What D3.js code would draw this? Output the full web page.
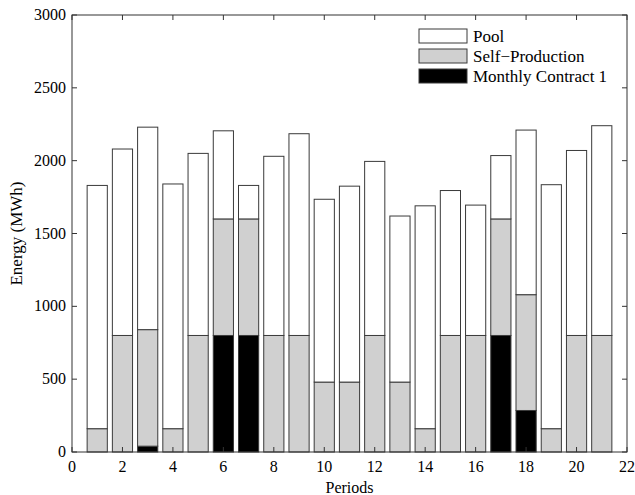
<!DOCTYPE html>
<html>
<head>
<meta charset="utf-8">
<script src="https://cdn.jsdelivr.net/npm/d3@7"></script>
<style>
  body { margin: 0; background: #fff; }
  svg text { font-family: "Liberation Serif", "DejaVu Serif", serif; fill: #000; }
</style>
</head>
<body>
<div id="main"></div>
<script>
// data
var periods = [1, 2, 3, 4, 5, 6, 7, 8, 9, 10, 11, 12, 13, 14, 15, 16, 17, 18, 19, 20, 21];
var monthlyContract = [0, 0, 40, 0, 0, 800, 800, 0, 0, 0, 0, 0, 0, 0, 0, 0, 800, 285, 0, 0, 0];
var selfProduction = [160, 800, 800, 160, 800, 800, 800, 800, 800, 480, 480, 800, 480, 160, 800, 800, 800, 795, 160, 800, 800];
var pool = [1670, 1280, 1390, 1680, 1250, 605, 230, 1230, 1385, 1255, 1345, 1195, 1140, 1530, 995, 895, 435, 1130, 1675, 1270, 1440];
var seriesNames = ["Monthly Contract 1", "Self\u2212Production", "Pool"];
var seriesColors = ["#000000", "#d0d0d0", "#ffffff"];
var xTicks = [0, 2, 4, 6, 8, 10, 12, 14, 16, 18, 20, 22];
var yTicks = [0, 500, 1000, 1500, 2000, 2500, 3000];

var width = 635, height = 495;
var margin = {top: 15, right: 8, bottom: 43, left: 72};
var w = width - margin.left - margin.right;
var h = height - margin.top - margin.bottom;

var svg = d3.select("#main").append("svg")
  .attr("width", width)
  .attr("height", height);

var g = svg.append("g")
  .attr("transform", "translate(" + margin.left + "," + margin.top + ")");

var x = d3.scaleLinear().domain([0, 22]).range([0, w]);
var y = d3.scaleLinear().domain([0, 3000]).range([h, 0]);

var rows = periods.map(function(p, i) {
  return {period: p, m: monthlyContract[i], s: selfProduction[i], p: pool[i]};
});
var stack = d3.stack().keys(["m", "s", "p"]);
var layers = stack(rows);

var barW = x(0.8) - x(0);

layers.forEach(function(layer, li) {
  g.selectAll(".bar" + li)
    .data(layer.filter(function(d) { return d[1] - d[0] > 0; }))
    .enter().append("rect")
    .attr("x", function(d) { return x(d.data.period) - barW / 2; })
    .attr("y", function(d) { return y(d[1]); })
    .attr("width", barW)
    .attr("height", function(d) { return y(d[0]) - y(d[1]); })
    .attr("fill", seriesColors[li])
    .attr("stroke", "#3a3a3a")
    .attr("stroke-width", 1);
});

// frame and ticks (matlab style, ticks inside on all sides)
g.append("rect")
  .attr("x", 0).attr("y", 0)
  .attr("width", w).attr("height", h)
  .attr("fill", "none")
  .attr("stroke", "#333")
  .attr("stroke-width", 1);

var tl = 5;
xTicks.forEach(function(t) {
  g.append("line").attr("x1", x(t)).attr("x2", x(t)).attr("y1", h).attr("y2", h - tl).attr("stroke", "#333");
  g.append("line").attr("x1", x(t)).attr("x2", x(t)).attr("y1", 0).attr("y2", tl).attr("stroke", "#333");
  g.append("text")
    .attr("x", x(t)).attr("y", h + 20)
    .attr("text-anchor", "middle")
    .style("font-size", "16px")
    .text(t);
});
yTicks.forEach(function(t) {
  g.append("line").attr("x1", 0).attr("x2", tl).attr("y1", y(t)).attr("y2", y(t)).attr("stroke", "#333");
  g.append("line").attr("x1", w).attr("x2", w - tl).attr("y1", y(t)).attr("y2", y(t)).attr("stroke", "#333");
  g.append("text")
    .attr("x", -6).attr("y", y(t) + 5)
    .attr("text-anchor", "end")
    .style("font-size", "16px")
    .text(t);
});

svg.append("text")
  .attr("x", margin.left + w / 2).attr("y", 493)
  .attr("text-anchor", "middle")
  .style("font-size", "16px")
  .text("Periods");

svg.append("text")
  .attr("transform", "translate(22," + (margin.top + h / 2) + ") rotate(-90)")
  .attr("text-anchor", "middle")
  .style("font-size", "17px")
  .text("Energy (MWh)");

// legend, pool first
var legOrder = [2, 1, 0];
legOrder.forEach(function(li, k) {
  var ly = 29 + k * 20;
  svg.append("rect")
    .attr("x", 419).attr("y", ly)
    .attr("width", 48).attr("height", 14)
    .attr("fill", seriesColors[li])
    .attr("stroke", "#3a3a3a");
  svg.append("text")
    .attr("x", 473).attr("y", ly + 13)
    .style("font-size", "17px")
    .text(seriesNames[li]);
});
</script>
</body>
</html>
